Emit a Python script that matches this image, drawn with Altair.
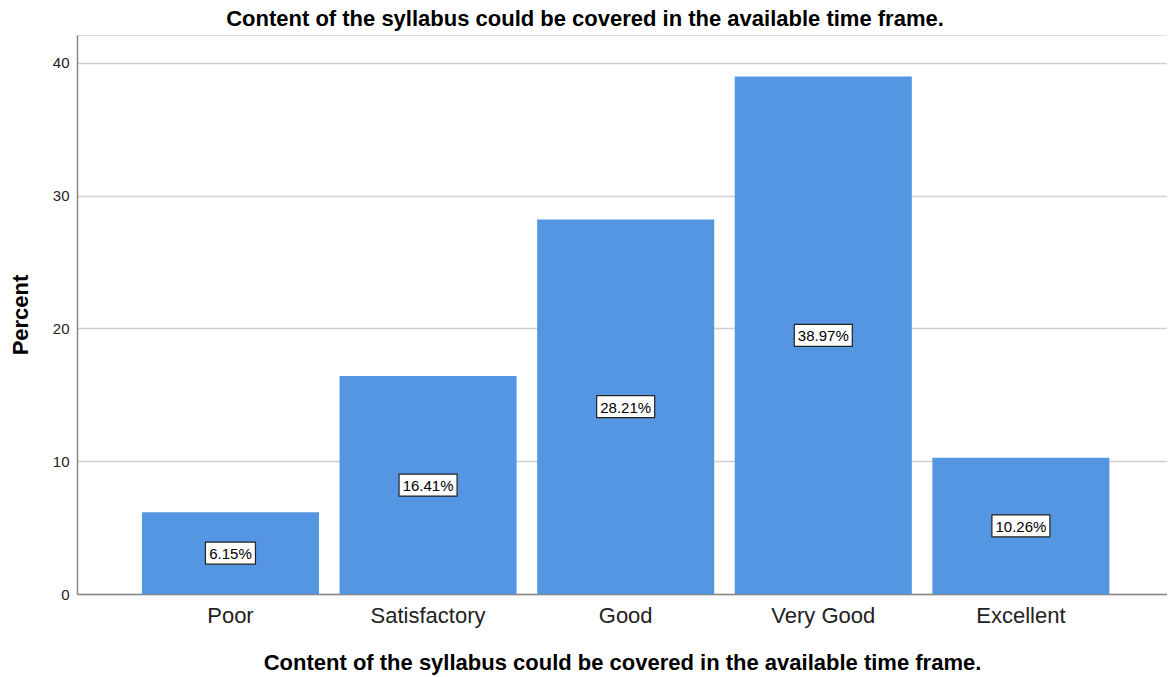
import altair as alt
import pandas as pd

categories = ["Poor", "Satisfactory", "Good", "Very Good", "Excellent"]
percents = [6.15, 16.41, 28.21, 38.97, 10.26]
labels = ["6.15%", "16.41%", "28.21%", "38.97%", "10.26%"]

df = pd.DataFrame({"cat": categories, "pct": percents, "label": labels})

TITLE = "Content of the syllabus could be covered in the available time frame."
FONT = "Liberation Sans"

x = alt.X("cat:N", sort=categories,
          scale=alt.Scale(paddingInner=0.104, paddingOuter=0.31, align=0.53),
          axis=alt.Axis(title=TITLE, labelAngle=0, labelFontSize=22, labelColor="#222",
                        labelFont=FONT, ticks=False, labelPadding=11,
                        titleFont=FONT, titleFontSize=22, titleFontWeight="bold",
                        titleColor="#000", titlePadding=26,
                        domainColor="#888", domainWidth=1.5))

y_scale = alt.Scale(domain=[0, 42.1], nice=False)

bars = alt.Chart(df).mark_bar(color="#5596e3").encode(
    x=x,
    y=alt.Y("pct:Q", scale=y_scale,
            axis=alt.Axis(title="Percent", values=[0, 10, 20, 30, 40], ticks=False,
                          labelFont=FONT, labelFontSize=15, labelColor="#222", labelPadding=8,
                          titleFont=FONT, titleFontSize=22, titleFontWeight="bold",
                          titleColor="#000", titlePadding=20,
                          grid=True, gridColor="#d0d0d0", gridWidth=1.5,
                          domainColor="#888", domainWidth=1.5)),
)

base = alt.Chart(df).transform_calculate(mid="datum.pct / 2", n="length(datum.label)")

box_short = base.transform_filter("datum.n <= 5").mark_bar(
    width=50, fill="white", stroke="#222", strokeWidth=1.2, yOffset=-11, y2Offset=11
).encode(x=alt.X("cat:N", sort=categories), y=alt.Y("mid:Q", scale=y_scale), y2="mid:Q")

box_long = base.transform_filter("datum.n > 5").mark_bar(
    width=58, fill="white", stroke="#222", strokeWidth=1.2, yOffset=-11, y2Offset=11
).encode(x=alt.X("cat:N", sort=categories), y=alt.Y("mid:Q", scale=y_scale), y2="mid:Q")

text = base.mark_text(font=FONT, fontSize=15, color="#000", baseline="middle", dy=1).encode(
    x=alt.X("cat:N", sort=categories), y=alt.Y("mid:Q", scale=y_scale), text="label:N"
)

chart = alt.layer(bars, box_short, box_long, text).properties(
    width=1090, height=559,
    title=alt.TitleParams(TITLE, font=FONT, fontSize=22, fontWeight="bold", color="#000",
                          anchor="middle", dx=-37, offset=4),
    autosize=alt.AutoSizeParams(type="none"),
    padding={"left": 69, "top": 27, "right": 0, "bottom": 82},
).configure_view(stroke=None).configure(background="white")

chart.save("out.html", embed_options={"renderer": "svg", "actions": False})
